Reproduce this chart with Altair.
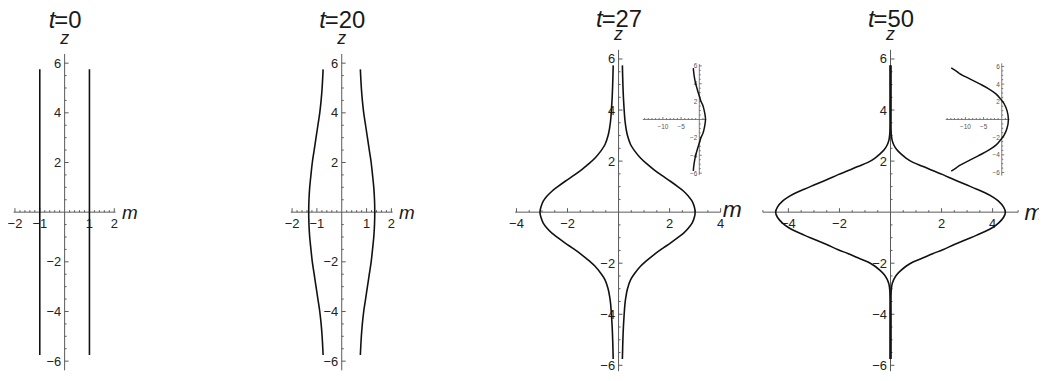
import altair as alt
import pandas as pd

# ---------------- values ----------------
TIMES = ["0", "20", "27", "50"]

Z_TICKS = [-6, -4, -2, 2, 4, 6]
Z_TICK_LABELS = ["−6", "−4", "−2", "2", "4", "6"]
M_TICKS_NARROW = [-2, -1, 1, 2]
M_TICK_LABELS_NARROW = ["−2", "−1", "1", "2"]
M_TICKS_WIDE = [-4, -2, 2, 4]
M_TICK_LABELS_WIDE = ["−4", "−2", "2", "4"]

INSET_M_TICKS = [-10, -5]
INSET_M_TICK_LABELS = ["−10", "−5"]
INSET_Z_TICKS = [-6, -4, -2, 2, 4, 6]
INSET_Z_TICK_LABELS = ["−6", "−4", "−2", "2", "4", "6"]

# t = 0 : two straight lines
P1_Z = [-5.75, 5.75]
P1_LEFT = [-1.0, -1.0]
P1_RIGHT = [1.0, 1.0]

# half profiles for z >= 0 (the figure is mirror-symmetric in z)
P2_Z = [0, 0.5, 1.0, 1.5, 2.0, 2.5, 3.0, 3.5, 4.0, 4.5, 5.0, 5.75]
P2_R = [1.33, 1.32, 1.29, 1.24, 1.185, 1.11, 1.035, 0.96, 0.885, 0.83, 0.79, 0.75]

P3_Z = [0, 0.2, 0.43, 0.62, 0.82, 1.0, 1.21, 1.45, 1.67, 1.9, 2.12, 2.4, 2.65,
        3.0, 3.3, 3.6, 4.0, 4.5, 5.0, 5.75]
P3_R_RIGHT = [3.0, 2.97, 2.88, 2.74, 2.55, 2.32, 2.03, 1.68, 1.38, 1.1, 0.86, 0.63,
              0.47, 0.35, 0.29, 0.25, 0.22, 0.19, 0.17, 0.15]
P3_R_LEFT = [3.08, 3.04, 2.95, 2.81, 2.61, 2.38, 2.09, 1.74, 1.44, 1.16, 0.92, 0.69,
             0.53, 0.41, 0.35, 0.31, 0.28, 0.25, 0.23, 0.21]

P4_Z = [0, 0.2, 0.43, 0.6, 0.75, 0.9, 1.08, 1.27, 1.47, 1.63, 1.79, 1.95, 2.11,
        2.27, 2.44, 2.63, 2.83, 3.05, 3.3, 4.0, 5.0, 5.75]
P4_R = [4.5, 4.43, 4.23, 4.0, 3.72, 3.38, 2.95, 2.5, 2.05, 1.65, 1.28, 0.88, 0.62,
        0.42, 0.25, 0.13, 0.06, 0.03, 0.02, 0.02, 0.02, 0.02]

INSET3_Z = [0, 0.8, 1.55, 2.0, 2.5, 2.85, 3.5, 4.15, 5.0, 5.75]
INSET3_M = [1.7, 1.45, 1.0, 0.47, 0.1, -0.18, -0.65, -1.08, -1.45, -1.65]

INSET4_Z = [0, 1.0, 1.78, 2.3, 2.9, 3.5, 4.05, 4.6, 5.2, 5.5, 5.85]
INSET4_M = [1.83, 1.45, 0.65, -0.3, -1.6, -3.7, -6.2, -8.8, -11.6, -12.6, -13.9]

# ---------------- layout / style ----------------
PAGE = 8
W, H = 1038, 365
FONT = "Liberation Sans"
AX = "#5a5a5a"
LBL = "#222222"
INK = "#111111"


def mirror(zs, rs, sign):
    z_full = [-z for z in zs[::-1]] + list(zs[1:])
    m_full = [sign * r for r in rs[::-1]] + [sign * r for r in rs[1:]]
    return m_full, z_full


def grid(lo, hi, step, skip):
    out = []
    for k in range(round(lo / step), round(hi / step) + 1):
        v = round(k * step, 6)
        if all(abs(v - s) > 1e-9 for s in skip):
            out.append(v)
    return out


def curve_df(curves):
    rows = []
    for side, (ms, zs) in enumerate(curves):
        for i, (m, z) in enumerate(zip(ms, zs)):
            rows.append({"m": m, "z": z, "side": side, "i": i})
    return pd.DataFrame(rows)


def axes_layers(xs, ys, m_ext, z_ext, m_major, m_labels, m_minor, z_major, z_labels,
                z_minor, tick_major, tick_minor, font_size, xlab_dy, ylab_dx, lab_color,
                line_w):
    X = lambda f: alt.X(f"{f}:Q", scale=xs, axis=None)
    Y = lambda f: alt.Y(f"{f}:Q", scale=ys, axis=None)
    layers = []
    axes = pd.DataFrame({"x": [m_ext[0], 0], "x2": [m_ext[1], 0],
                         "y": [0, z_ext[0]], "y2": [0, z_ext[1]]})
    layers.append(alt.Chart(axes).mark_rule(color=AX, strokeWidth=line_w).encode(
        x=X("x"), x2="x2", y=Y("y"), y2="y2"))
    for vals, L in ((z_major, tick_major), (z_minor, tick_minor)):
        d = pd.DataFrame({"p": vals, "o": [0] * len(vals)})
        layers.append(alt.Chart(d).mark_rule(color=AX, strokeWidth=line_w, x2Offset=L).encode(
            x=X("o"), x2="o", y=Y("p")))
    for vals, L in ((m_major, tick_major), (m_minor, tick_minor)):
        d = pd.DataFrame({"p": vals, "o": [0] * len(vals)})
        layers.append(alt.Chart(d).mark_rule(color=AX, strokeWidth=line_w, y2Offset=-L).encode(
            x=X("p"), y=Y("o"), y2="o"))
    dz = pd.DataFrame({"p": z_major, "o": [0] * len(z_major), "lab": z_labels})
    layers.append(alt.Chart(dz).mark_text(align="right", baseline="middle", dx=ylab_dx, dy=0.5,
                                          font=FONT, fontSize=font_size, color=lab_color).encode(
        x=X("o"), y=Y("p"), text="lab:N"))
    dm = pd.DataFrame({"p": m_major, "o": [0] * len(m_major), "lab": m_labels})
    layers.append(alt.Chart(dm).mark_text(align="center", baseline="alphabetic", dy=xlab_dy,
                                          font=FONT, fontSize=font_size, color=lab_color).encode(
        x=X("p"), y=Y("o"), text="lab:N"))
    return layers


PANELS = [
    dict(t=TIMES[0], axis_x=65.0, zero_y=212.3, pxu=25.0, m_ext=[-2.05, 2.05],
         z_ext=[-6.37, 6.37], m_major=M_TICKS_NARROW, m_labels=M_TICK_LABELS_NARROW,
         m_minor=grid(-2, 2, 0.2, [0] + M_TICKS_NARROW), m_font=19, m_dx=6.5, m_dy=6.7,
         title_y=18.5, zlab_y=35,
         curves=[(P1_LEFT, P1_Z), (P1_RIGHT, P1_Z)], inset=None),
    dict(t=TIMES[1], axis_x=344.0, zero_y=212.3, pxu=25.0, m_ext=[-2.05, 2.05],
         z_ext=[-6.37, 6.37], m_major=M_TICKS_NARROW, m_labels=M_TICK_LABELS_NARROW,
         m_minor=grid(-2, 2, 0.2, [0] + M_TICKS_NARROW), m_font=19, m_dx=6.5, m_dy=6.7,
         title_y=18.5, zlab_y=35,
         curves=[mirror(P2_Z, P2_R, -1), mirror(P2_Z, P2_R, 1)], inset=None),
    dict(t=TIMES[2], axis_x=622.7, zero_y=212.3, pxu=25.7, m_ext=[-4.05, 4.0],
         z_ext=[-6.23, 6.36], m_major=M_TICKS_WIDE, m_labels=M_TICK_LABELS_WIDE,
         m_minor=grid(-4, 4, 0.5, [0] + M_TICKS_WIDE), m_font=23, m_dx=2.0, m_dy=5.0,
         title_y=17.5, zlab_y=31,
         curves=[mirror(P3_Z, P3_R_LEFT, -1), mirror(P3_Z, P3_R_RIGHT, 1)],
         inset=dict(zero_x=704.0, zero_y=119.0, pxu_x=3.67, pxu_z=9.0,
                    m_ext=[-15.5, 1.9], z_ext=[-6.2, 6.2],
                    curve=mirror(INSET3_Z, INSET3_M, 1))),
    dict(t=TIMES[3], axis_x=896.5, zero_y=212.3, pxu=25.7, m_ext=[-5.0, 5.0],
         z_ext=[-6.23, 6.36], m_major=M_TICKS_WIDE, m_labels=M_TICK_LABELS_WIDE,
         m_minor=grid(-5, 5, 0.5, [0] + M_TICKS_WIDE), m_font=23, m_dx=6.5, m_dy=7.5,
         title_y=17.5, zlab_y=31,
         curves=[mirror(P4_Z, P4_R, -1), mirror(P4_Z, P4_R, 1)],
         inset=dict(zero_x=1008.5, zero_y=119.0, pxu_x=3.66, pxu_z=8.9,
                    m_ext=[-15.4, 2.1], z_ext=[-6.35, 6.35],
                    curve=mirror(INSET4_Z, INSET4_M, 1))),
]


def build_panel(p):
    ax, zy, u = p["axis_x"] - PAGE, p["zero_y"] - PAGE, p["pxu"]
    xs = alt.Scale(domain=p["m_ext"], range=[ax + p["m_ext"][0] * u, ax + p["m_ext"][1] * u],
                   nice=False, zero=False)
    ys = alt.Scale(domain=p["z_ext"], range=[zy - p["z_ext"][0] * u, zy - p["z_ext"][1] * u],
                   nice=False, zero=False)
    X = lambda f: alt.X(f"{f}:Q", scale=xs, axis=None)
    Y = lambda f: alt.Y(f"{f}:Q", scale=ys, axis=None)

    layers = axes_layers(xs, ys, p["m_ext"], p["z_ext"], p["m_major"], p["m_labels"],
                         p["m_minor"], Z_TICKS, Z_TICK_LABELS, grid(-6, 6, 0.5, [0] + Z_TICKS),
                         4, 2, 13, 15.7, -3.5, LBL, 1)

    layers.append(alt.Chart(curve_df(p["curves"])).mark_line(
        interpolate="catmull-rom", color=INK, strokeWidth=1.6).encode(
        x=X("m"), y=Y("z"), detail="side:N", order="i:Q"))

    one = pd.DataFrame({"o": [0], "e": [p["m_ext"][1]]})
    # title  "t=..."
    fs = 24
    split = (0.584 * fs + len(p["t"]) * 0.556 * fs - 0.278 * fs) / 2
    layers.append(alt.Chart(one).mark_text(
        align="right", baseline="alphabetic", dx=-split + 1, font=FONT, fontSize=fs,
        fontStyle="italic", color="#1a1a1a", text="t").encode(
        x=X("o"), y=alt.value(p["title_y"])))
    layers.append(alt.Chart(one).mark_text(
        align="left", baseline="alphabetic", dx=-split, font=FONT, fontSize=fs,
        color="#1a1a1a", text="=" + p["t"]).encode(
        x=X("o"), y=alt.value(p["title_y"])))
    # axis names
    layers.append(alt.Chart(one).mark_text(
        align="center", baseline="alphabetic", font=FONT, fontSize=18, fontStyle="italic",
        color="#1a1a1a", text="z").encode(x=X("o"), y=alt.value(p["zlab_y"])))
    layers.append(alt.Chart(one).mark_text(
        align="left", baseline="alphabetic", dx=p["m_dx"], dy=p["m_dy"], font=FONT,
        fontSize=p["m_font"], fontStyle="italic", color="#1a1a1a", text="m").encode(
        x=X("e"), y=Y("o")))

    out = [alt.layer(*layers)]

    ins = p["inset"]
    if ins:
        ix, iz = ins["zero_x"] - PAGE, ins["zero_y"] - PAGE
        ixs = alt.Scale(domain=ins["m_ext"],
                        range=[ix + ins["m_ext"][0] * ins["pxu_x"], ix + ins["m_ext"][1] * ins["pxu_x"]],
                        nice=False, zero=False)
        iys = alt.Scale(domain=ins["z_ext"],
                        range=[iz - ins["z_ext"][0] * ins["pxu_z"], iz - ins["z_ext"][1] * ins["pxu_z"]],
                        nice=False, zero=False)
        il = axes_layers(ixs, iys, ins["m_ext"], ins["z_ext"], INSET_M_TICKS, INSET_M_TICK_LABELS,
                         grid(-15, 1, 1, [0] + INSET_M_TICKS), INSET_Z_TICKS, INSET_Z_TICK_LABELS,
                         grid(-6, 6, 0.5, [0] + INSET_Z_TICKS), 2.5, 1.5, 6.5, 10.0, -2.0,
                         "#555555", 0.8)
        il.append(alt.Chart(curve_df([ins["curve"]])).mark_line(
            interpolate="catmull-rom", color=INK, strokeWidth=1.5).encode(
            x=alt.X("m:Q", scale=ixs, axis=None), y=alt.Y("z:Q", scale=iys, axis=None),
            detail="side:N", order="i:Q"))
        out.append(alt.layer(*il))
    return out


children = []
for p in PANELS:
    children.extend(build_panel(p))

chart = alt.layer(*children).resolve_scale(x="independent", y="independent").properties(
    width=W, height=H, padding=0, autosize=alt.AutoSizeParams(type="none")
).configure_view(stroke=None)

chart.save("out.html", embed_options={"renderer": "svg", "actions": False})
